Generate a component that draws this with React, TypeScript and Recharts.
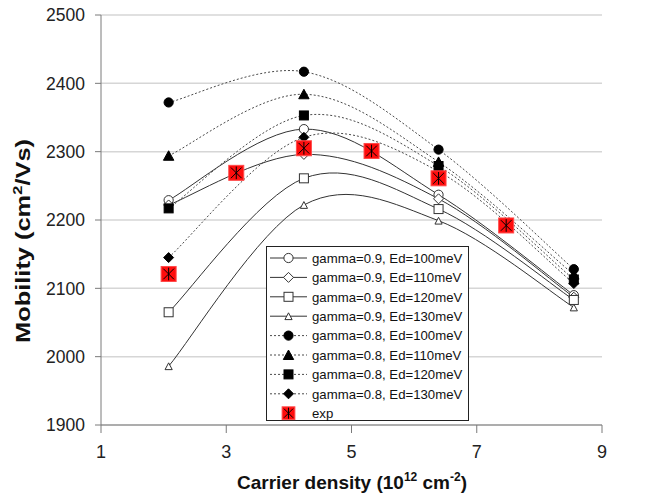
import React from 'react';
import { ComposedChart, Line, XAxis, YAxis, CartesianGrid, Legend, Label } from 'recharts';

// Carrier density (10^12 cm^-2) of the simulated points
const densities = [2.08, 4.24, 6.39, 8.55];
// Mobility (cm^2/Vs), simulations
const g09Ed100 = [2229, 2333, 2237, 2090];
const g09Ed110 = [2222, 2296, 2231, 2087];
const g09Ed120 = [2065, 2261, 2216, 2083];
const g09Ed130 = [1986, 2222, 2199, 2072];
const g08Ed100 = [2372, 2417, 2303, 2128];
const g08Ed110 = [2294, 2384, 2285, 2120];
const g08Ed120 = [2217, 2353, 2279, 2113];
const g08Ed130 = [2145, 2321, 2271, 2107];
// Experiment
const expDensities = [2.08, 3.16, 4.24, 5.32, 6.39, 7.47];
const expMobility = [2121, 2269, 2305, 2301, 2261, 2192];
// Axis ticks
const xTicks = [1, 3, 5, 7, 9];
const yTicks = [1900, 2000, 2100, 2200, 2300, 2400, 2500];

type Shape = 'circle' | 'diamond' | 'square' | 'triangle' | 'smallTriangle' | 'exp';
interface SeriesCfg { key: string; name: string; values: number[]; shape: Shape; filled: boolean; dashed: boolean; }

const series: SeriesCfg[] = [
  { key: 'g09Ed100', name: 'gamma=0.9, Ed=100meV', values: g09Ed100, shape: 'circle', filled: false, dashed: false },
  { key: 'g09Ed110', name: 'gamma=0.9, Ed=110meV', values: g09Ed110, shape: 'diamond', filled: false, dashed: false },
  { key: 'g09Ed120', name: 'gamma=0.9, Ed=120meV', values: g09Ed120, shape: 'square', filled: false, dashed: false },
  { key: 'g09Ed130', name: 'gamma=0.9, Ed=130meV', values: g09Ed130, shape: 'smallTriangle', filled: false, dashed: false },
  { key: 'g08Ed100', name: 'gamma=0.8, Ed=100meV', values: g08Ed100, shape: 'circle', filled: true, dashed: true },
  { key: 'g08Ed110', name: 'gamma=0.8, Ed=110meV', values: g08Ed110, shape: 'triangle', filled: true, dashed: true },
  { key: 'g08Ed120', name: 'gamma=0.8, Ed=120meV', values: g08Ed120, shape: 'square', filled: true, dashed: true },
  { key: 'g08Ed130', name: 'gamma=0.8, Ed=130meV', values: g08Ed130, shape: 'diamond', filled: true, dashed: true },
];

const simTable = densities.map((x, i) => {
  const row: Record<string, number> = { x };
  series.forEach((s) => { row[s.key] = s.values[i]; });
  return row;
});
const expTable = expDensities.map((x, i) => ({ x, exp: expMobility[i] }));

const FONT = '"Liberation Sans", Arial, sans-serif';
const SOLID = '#333333';
const DOTTED = '#4a4a4a';

// Excel-like smoothed line (Catmull-Rom through the points)
const excelCurve: any = (context: any) => {
  let pts: number[][] = [];
  return {
    areaStart() {},
    areaEnd() {},
    lineStart() { pts = []; },
    point(x: number, y: number) { pts.push([+x, +y]); },
    lineEnd() {
      const n = pts.length;
      if (!n) return;
      context.moveTo(pts[0][0], pts[0][1]);
      for (let i = 0; i < n - 1; i++) {
        const p0 = pts[Math.max(0, i - 1)];
        const p1 = pts[i];
        const p2 = pts[i + 1];
        const p3 = pts[Math.min(n - 1, i + 2)];
        context.bezierCurveTo(
          p1[0] + (p2[0] - p0[0]) / 6, p1[1] + (p2[1] - p0[1]) / 6,
          p2[0] - (p3[0] - p1[0]) / 6, p2[1] - (p3[1] - p1[1]) / 6,
          p2[0], p2[1]
        );
      }
    },
  };
};

function Marker({ cx, cy, shape, filled, scale = 1 }: { cx: number; cy: number; shape: Shape; filled: boolean; scale?: number }) {
  const fill = filled ? '#000' : '#fff';
  const stroke = filled ? '#000' : '#333';
  const sw = 1;
  if (shape === 'circle') {
    const r = 4.6 * scale;
    return <circle cx={cx} cy={cy} r={r} fill={fill} stroke={stroke} strokeWidth={sw} />;
  }
  if (shape === 'square') {
    const h = 4.5 * scale;
    return <rect x={cx - h} y={cy - h} width={2 * h} height={2 * h} fill={fill} stroke={stroke} strokeWidth={sw} />;
  }
  if (shape === 'diamond') {
    const h = 5 * scale;
    return <polygon points={`${cx},${cy - h} ${cx + h},${cy} ${cx},${cy + h} ${cx - h},${cy}`} fill={fill} stroke={stroke} strokeWidth={sw} />;
  }
  if (shape === 'triangle') {
    const w = 5.2 * scale;
    const h = 5 * scale;
    return <polygon points={`${cx},${cy - h} ${cx + w},${cy + h - 0.5} ${cx - w},${cy + h - 0.5}`} fill={fill} stroke={stroke} strokeWidth={sw} />;
  }
  if (shape === 'smallTriangle') {
    const w = 3.6 * scale;
    const h = 3.4 * scale;
    return <polygon points={`${cx},${cy - h} ${cx + w},${cy + h} ${cx - w},${cy + h}`} fill={fill} stroke={stroke} strokeWidth={sw} />;
  }
  // exp marker: red square with asterisk
  const h = 7.5 * scale;
  const a = 5.3 * scale;
  return (
    <g>
      <rect x={cx - h} y={cy - h} width={2 * h} height={2 * h} fill="#ff0d0d" stroke="#ff4a4a" strokeWidth={1} />
      <line x1={cx} y1={cy - a - 1} x2={cx} y2={cy + a + 1} stroke="#000" strokeWidth={1} />
      <line x1={cx - a} y1={cy - a} x2={cx + a} y2={cy + a} stroke="#000" strokeWidth={1} />
      <line x1={cx + a} y1={cy - a} x2={cx - a} y2={cy + a} stroke="#000" strokeWidth={1} />
    </g>
  );
}

const makeDot = (shape: Shape, filled: boolean) => (p: any) => {
  if (p.cx == null || p.cy == null) return <g key={`d-${p.index}`} />;
  return (
    <g key={`d-${shape}-${p.index}`}>
      <Marker cx={p.cx} cy={p.cy} shape={shape} filled={filled} />
    </g>
  );
};

const LegendBox = () => {
  const W = 203;
  const H = 175;
  const rows: { name: string; shape: Shape; filled: boolean; dashed: boolean | null }[] = [
    ...series.map((s) => ({ name: s.name, shape: s.shape, filled: s.filled, dashed: s.dashed as boolean | null })),
    { name: 'exp', shape: 'exp' as Shape, filled: true, dashed: null },
  ];
  return (
    <svg width={W} height={H} style={{ display: 'block' }}>
      <rect x={0.5} y={0.5} width={W - 1} height={H - 1} fill="#fff" stroke="#222" strokeWidth={1} />
      {rows.map((r, i) => {
        const cy = 12 + i * 19.4;
        return (
          <g key={r.name}>
            {r.dashed !== null && (
              <line x1={4} y1={cy} x2={41} y2={cy} stroke={r.dashed ? DOTTED : SOLID} strokeWidth={1} strokeDasharray={r.dashed ? '2 2' : undefined} />
            )}
            <Marker cx={22.5} cy={cy} shape={r.shape} filled={r.filled} scale={r.shape === 'exp' ? 0.85 : 1} />
            <text x={46} y={cy + 4.8} fontFamily={FONT} fontSize={13.2} fill="#111">{r.name}</text>
          </g>
        );
      })}
    </svg>
  );
};

const XTitle = () => (
  <text x={352} y={489} textAnchor="middle" fontFamily={FONT} fontSize={19} fontWeight="bold" fill="#111">
    Carrier density (10<tspan dy={-8} fontSize={12}>12</tspan><tspan dy={8}> cm</tspan><tspan dy={-8} fontSize={12}>-2</tspan><tspan dy={8}>)</tspan>
  </text>
);

const YTitle = () => (
  <text x={0} y={0} transform="translate(30,241) rotate(-90)" textAnchor="middle" fontFamily={FONT} fontSize={20} fontWeight="bold" fill="#111" textLength={204} lengthAdjust="spacingAndGlyphs">
    Mobility (cm<tspan dy={-8} fontSize={13}>2</tspan><tspan dy={8}>/Vs)</tspan>
  </text>
);

export default function App() {
  return (
    <div style={{ position: 'fixed', left: 0, top: 0, width: 664, height: 504, background: '#fff' }}>
      <ComposedChart
        width={664}
        height={504}
        data={simTable}
        margin={{ top: 15, right: 62, bottom: 19, left: 41 }}
      >
        <CartesianGrid horizontal vertical={false} stroke="#d6d6d6" strokeWidth={1.5} />
        <XAxis
          type="number"
          dataKey="x"
          domain={[1, 9]}
          ticks={xTicks}
          allowDataOverflow
          height={60}
          tickSize={8}
          tickMargin={12}
          axisLine={{ stroke: '#7a7a7a' }}
          tickLine={{ stroke: '#7a7a7a' }}
          tick={{ fontSize: 18, fontFamily: FONT, fill: '#222' }}
        >
          <Label content={() => <XTitle />} />
        </XAxis>
        <YAxis
          type="number"
          domain={[1900, 2500]}
          ticks={yTicks}
          allowDataOverflow
          width={60}
          tickSize={6}
          tickMargin={10}
          axisLine={{ stroke: '#7a7a7a' }}
          tickLine={{ stroke: '#7a7a7a' }}
          tick={{ fontSize: 17.5, fontFamily: FONT, fill: '#222' }}
        >
          <Label content={() => <YTitle />} />
        </YAxis>
        <Legend
          layout="vertical"
          align="center"
          verticalAlign="middle"
          content={() => <LegendBox />}
          wrapperStyle={{ left: 266, top: 246, width: 203, height: 175 }}
        />
        {series.map((s) => (
          <Line
            key={s.key}
            dataKey={s.key}
            name={s.name}
            type={excelCurve}
            stroke={s.dashed ? DOTTED : SOLID}
            strokeWidth={1}
            strokeDasharray={s.dashed ? '2 2' : undefined}
            dot={makeDot(s.shape, s.filled)}
            activeDot={false}
            isAnimationActive={false}
          />
        ))}
        <Line
          data={expTable}
          dataKey="exp"
          name="exp"
          stroke="none"
          dot={makeDot('exp', true)}
          activeDot={false}
          isAnimationActive={false}
        />
      </ComposedChart>
    </div>
  );
}
